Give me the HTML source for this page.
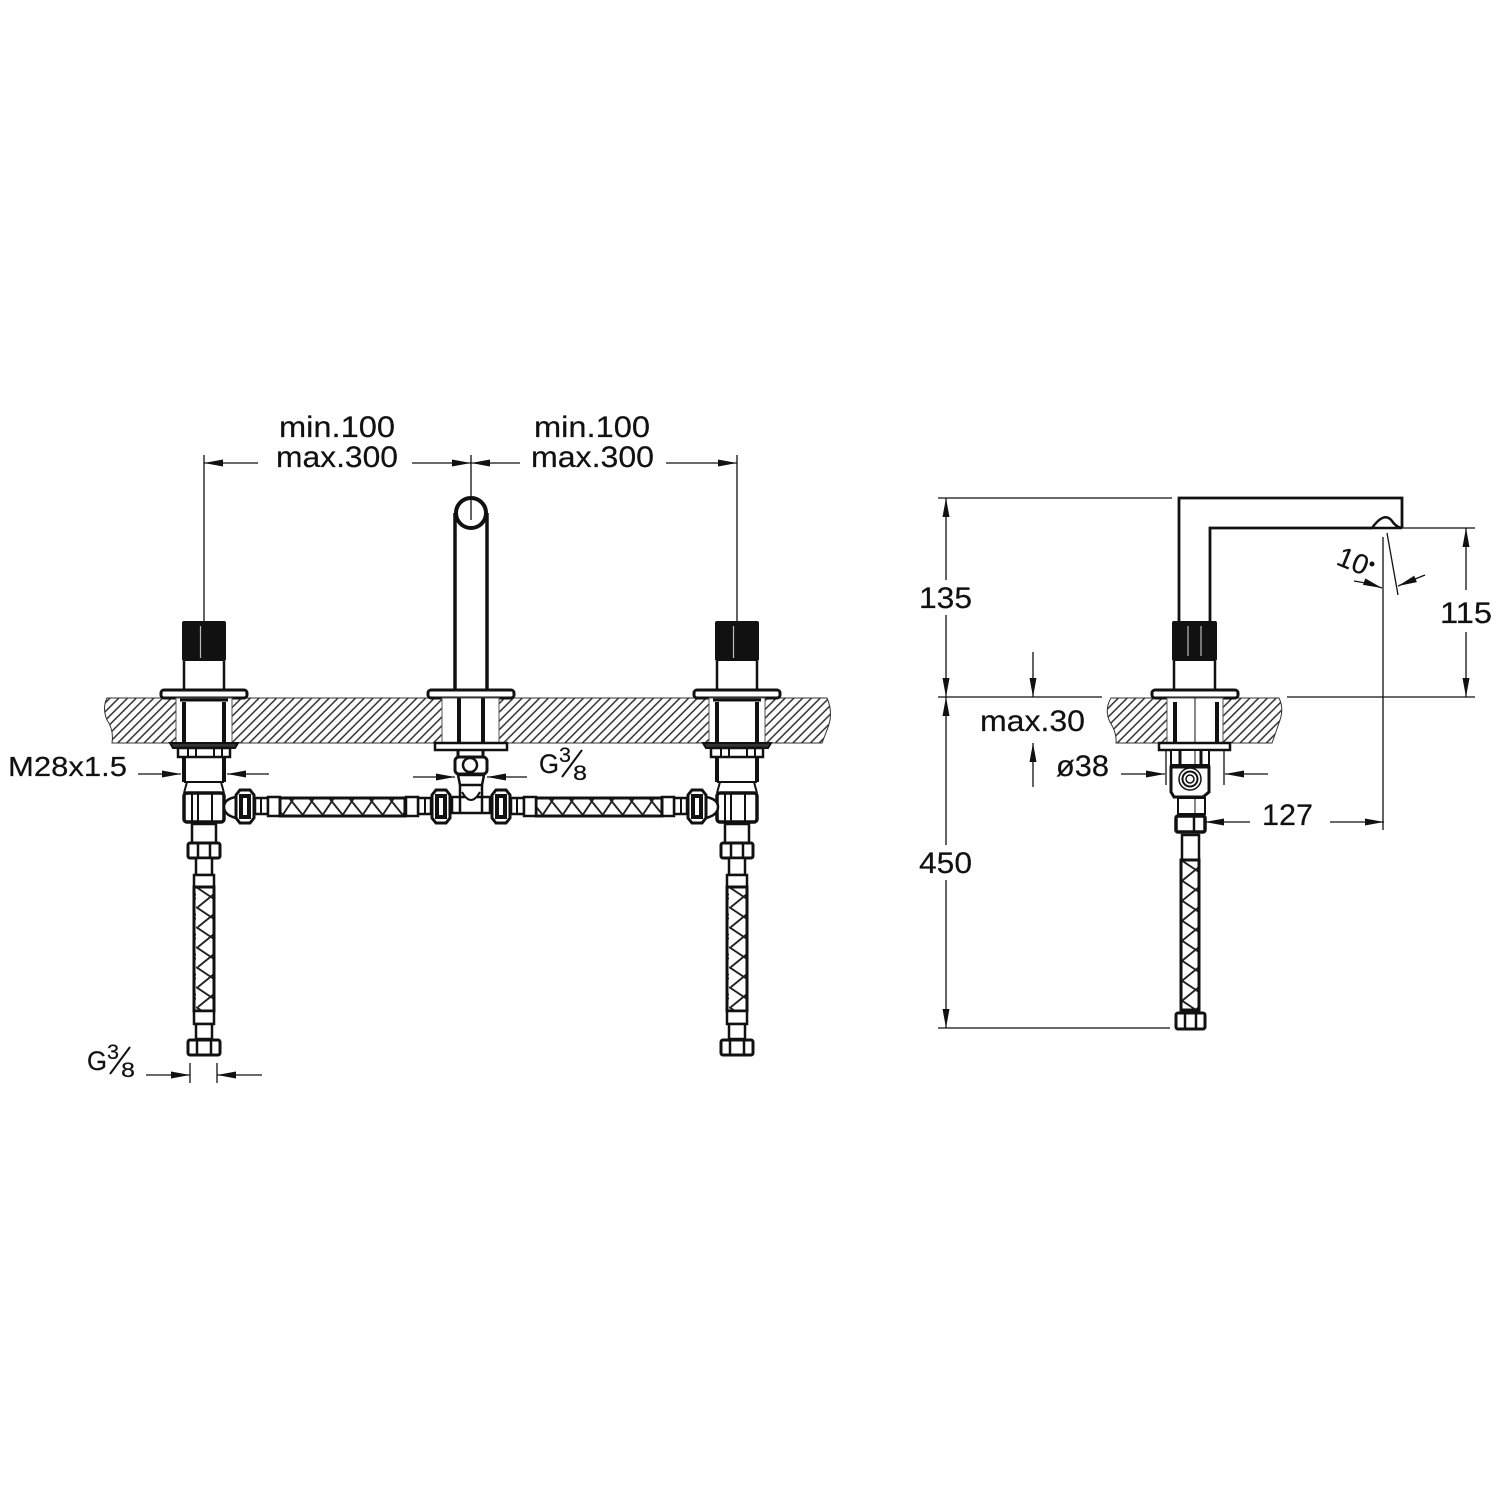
<!DOCTYPE html>
<html><head><meta charset="utf-8"><style>html,body{margin:0;padding:0;background:#fff}svg{display:block}text{font-family:"Liberation Sans",sans-serif;font-size:30px;fill:#111;stroke:#111;stroke-width:.2}</style></head><body>
<svg width="1500" height="1500" viewBox="0 0 1500 1500" xmlns="http://www.w3.org/2000/svg">
<defs>
<pattern id="h" width="6.2" height="6.2" patternUnits="userSpaceOnUse" patternTransform="rotate(45)"><line x1="1" y1="0" x2="1" y2="6.2" stroke="#222" stroke-width="1.4"/></pattern>
<pattern id="bh" width="20" height="18" patternUnits="userSpaceOnUse" patternTransform="translate(282 798)"><path d="M0 18L12 0M7 0L20 16M-13 0L0 16M20 18L32 0" fill="none" stroke="#222" stroke-width="1.9"/></pattern>
<pattern id="bv" width="20" height="18" patternUnits="userSpaceOnUse" patternTransform="translate(214 887) rotate(90)"><path d="M0 18L12 0M7 0L20 16M-13 0L0 16M20 18L32 0" fill="none" stroke="#222" stroke-width="1.9"/></pattern>
<pattern id="bv2" width="20" height="18" patternUnits="userSpaceOnUse" patternTransform="translate(1199 860) rotate(90)"><path d="M0 18L12 0M7 0L20 16M-13 0L0 16M20 18L32 0" fill="none" stroke="#222" stroke-width="1.9"/></pattern>
<marker id="a" markerUnits="userSpaceOnUse" markerWidth="20" markerHeight="8" refX="19" refY="4" orient="auto-start-reverse"><path d="M0 .5L19 4L0 7.500Z" fill="#111"/></marker>

<g id="top" fill="#fff" stroke="#111">
  <path d="M184 661V689M224 661V689" stroke-width="2.500"/>
  <rect x="182" y="621" width="44" height="40" rx="2" fill="#111" stroke="none"/>
  <path d="M200.500 626V658" stroke="#bbb" stroke-width="1.200"/>
  <rect x="161" y="690" width="86" height="8" rx="3" stroke-width="3"/>
</g>
<g id="mount" fill="#fff" stroke="#111">
  <rect x="176" y="698" width="56" height="45" stroke="#555" stroke-width="1"/>
  <path d="M180 700H228" stroke-width="3"/>
  <path d="M184 702V743M224 702V743" stroke-width="4"/>
  <path d="M170 743H238L235 748H173Z" fill="#333" stroke-width="2"/>
</g>
<g id="nut" fill="#fff" stroke="#111" stroke-width="3">
  <rect x="188" y="843" width="32" height="15" rx="2"/>
  <path d="M198 843V858M210 843V858" stroke-width="2.500"/>
</g>
<g id="vhose" fill="#fff" stroke="#111">
  <rect x="196" y="858" width="16" height="17" stroke-width="2.500"/>
  <rect x="194" y="875" width="20" height="12" stroke-width="2.500"/>
  <rect x="194" y="887" width="20" height="124" fill="url(#bv)" stroke-width="3"/>
  <rect x="194" y="1011" width="20" height="13" stroke-width="2.500"/>
  <rect x="196" y="1024" width="16" height="15" stroke-width="2.500"/>
  <rect x="188" y="1040" width="32" height="15" rx="2" stroke-width="3"/>
  <path d="M197 1040V1055M211 1040V1055" stroke-width="2.500"/>
</g>
<g id="body" fill="#fff" stroke="#111">
  <rect x="178" y="748" width="52" height="9" stroke-width="2.500"/>
  <path d="M188 748V757M196 748V757M214 748V757M222 748V757" stroke-width="2"/>
  <path d="M184 757V782M224 757V782" stroke-width="4"/>
  <path d="M184 782H224" stroke-width="2"/>
  <rect x="184" y="793" width="40" height="29" rx="3" stroke-width="3.500"/>
  <path d="M184 793L187 782M224 793L221 782" stroke-width="2"/>
  <path d="M192 793V822M198 793V822M212 793V822" stroke-width="2"/>
  <rect x="192" y="824" width="24" height="19" stroke-width="2.500"/>
</g>
<path id="elb" d="M236 797Q224 799 224 807Q224 815 236 818" fill="#fff" stroke="#111" stroke-width="2.500"/>
<g id="conn" fill="#fff" stroke="#111">
  <path d="M236 795L240 790H250L254 795V818L250 823H240L236 818Z" stroke-width="3"/>
  <rect x="241" y="796" width="8" height="21" fill="#fff" stroke-width="4"/>
  <rect x="255" y="798" width="13" height="16" stroke-width="2.500"/>
  <path d="M261 798V814" stroke-width="2"/>
  <rect x="268" y="797" width="12" height="19" stroke-width="2.500"/>
</g>
</defs>
<rect width="1500" height="1500" fill="#fff"/>

<!-- counters -->
<path d="M107 698H827Q834 714 827 730L822 743H112Q114 730 107 720Q102 708 107 698Z" fill="url(#h)" stroke="#333" stroke-width="1"/>
<path d="M1111 698H1279Q1284 708 1280 720Q1276 732 1272 743H1116Q1117 733 1110 722Q1104 710 1111 698Z" fill="url(#h)" stroke="#333" stroke-width="1"/>

<!-- left unit -->
<use href="#top"/><use href="#mount"/><use href="#body"/><use href="#nut"/><use href="#vhose"/><use href="#elb"/><use href="#conn"/>
<!-- right unit -->
<g transform="translate(533 0)"><use href="#top"/><use href="#mount"/><use href="#body"/><use href="#nut"/><use href="#vhose"/></g>
<use href="#elb" transform="matrix(-1 0 0 1 942 0)"/>
<use href="#conn" transform="matrix(-1 0 0 1 942 0)"/>

<!-- horizontal hoses -->
<rect x="280" y="798" width="125" height="18" fill="url(#bh)" stroke="#111" stroke-width="3"/>
<rect x="536" y="798" width="126" height="18" fill="url(#bh)" stroke="#111" stroke-width="3"/>
<use href="#conn" transform="matrix(-1 0 0 1 686 0)"/>
<use href="#conn" transform="translate(256 0)"/>

<!-- middle -->
<g fill="#fff" stroke="#111">
  <path d="M455 689V513M487 689V513" stroke-width="3.500"/>
  <circle cx="471" cy="513" r="15" stroke-width="4"/>
  <rect x="428" y="690" width="86" height="8" rx="3" stroke-width="3"/>
  <rect x="442" y="698" width="57" height="45" stroke="#555" stroke-width="1"/>
  <path d="M459 698V743M483 698V743" stroke-width="4"/>
  <rect x="435" y="743" width="72" height="7" stroke-width="2.500"/>
  <path d="M458 750V757M483 750V757" stroke-width="3"/>
  <rect x="455" y="757" width="32" height="17" rx="4" stroke-width="3"/>
  <circle cx="470" cy="765" r="7" stroke-width="2.500"/>
  <path d="M458 775H484L482 785H460Z" stroke-width="2.500"/>
  <path d="M460 785V797M482 785V797" stroke-width="2.500"/>
  <rect x="452" y="797" width="38" height="16" stroke-width="2.500"/>
  <path d="M460 797V813M482 797V813" stroke-width="2.500"/>
  <path d="M462 792Q471 808 480 792" stroke-width="2"/>
</g>

<!-- side view -->
<g fill="#fff" stroke="#111">
  <path d="M1179 621V498H1402V528M1210 621V528H1372" fill="none" stroke-width="2.800"/>
  <path d="M1372 528Q1384 511 1392 521Q1396 527 1402 528H1372Z" stroke-width="2.500"/>
  <rect x="1172" y="621" width="45" height="40" rx="2" fill="#111" stroke="none"/>
  <path d="M1188 626V656M1201 626V656" stroke="#bbb" stroke-width="1.200"/>
  <path d="M1174 661V689M1215 661V689" stroke-width="2.500"/>
  <rect x="1152" y="690" width="86" height="8" rx="3" stroke-width="3"/>
  <rect x="1167" y="698" width="56" height="45" stroke="#555" stroke-width="1"/>
  <path d="M1175 702V743M1217 702V743" stroke-width="4"/>
  <path d="M1195 698V743" stroke-width="1"/>
  <rect x="1159" y="743" width="71" height="7" stroke-width="2.500"/>
  <rect x="1171" y="750" width="38" height="15" stroke-width="2"/>
  <path d="M1180 750V765M1201 750V765" stroke-width="3"/>
  <path d="M1171 767H1209V792L1203 797H1174L1171 792Z" stroke-width="3"/>
  <circle cx="1190" cy="779" r="11" stroke-width="1.500"/>
  <circle cx="1190" cy="779" r="7.500" stroke-width="2"/>
  <circle cx="1190" cy="779" r="4" stroke-width="1.500"/>
  <rect x="1178" y="798" width="27" height="16" stroke-width="2"/>
  <path d="M1195 750V765M1195 797V815" stroke-width="1"/>
  <rect x="1176" y="816" width="29" height="16" rx="2" stroke-width="3.500"/>
  <path d="M1194 816V832" stroke-width="2.500"/>
  <rect x="1182" y="835" width="17" height="25" stroke-width="2.500"/>
  <rect x="1181" y="860" width="18" height="150" fill="url(#bv2)" stroke-width="3"/>
  <rect x="1176" y="1013" width="29" height="16" rx="2" stroke-width="3"/>
  <path d="M1185 1013V1029M1196 1013V1029" stroke-width="2.500"/>
</g>

<!-- dimension lines -->
<g fill="none" stroke="#111" stroke-width="1.300">
  <path d="M204 455V640M737 455V621M471 455V520"/>
  <path d="M258 463H204" marker-end="url(#a)"/>
  <path d="M412 463H471" marker-end="url(#a)"/>
  <path d="M520 463H471" marker-end="url(#a)"/>
  <path d="M666 463H737" marker-end="url(#a)"/>
  <path d="M138 774H181" marker-end="url(#a)"/>
  <path d="M269 774H227" marker-end="url(#a)"/>
  <path d="M413 777H455" marker-end="url(#a)"/>
  <path d="M527 777H487" marker-end="url(#a)"/>
  <path d="M146 1075H190" marker-end="url(#a)"/>
  <path d="M262 1075H217" marker-end="url(#a)"/>
  <path d="M190 1063V1083M217 1063V1083"/>

  <path d="M938 498H1172M938 697H1102M1287 697H1475M1402 528H1475M938 1028H1170"/>
  <path d="M946 580V498" marker-end="url(#a)"/>
  <path d="M946 615V697" marker-end="url(#a)"/>
  <path d="M946 845V697" marker-end="url(#a)"/>
  <path d="M946 880V1028" marker-end="url(#a)"/>
  <path d="M1466 590V528" marker-end="url(#a)"/>
  <path d="M1466 632V697" marker-end="url(#a)"/>
  <path d="M1033 652V697" marker-end="url(#a)"/>
  <path d="M1033 787V743" marker-end="url(#a)"/>
  <path d="M1121 774H1165" marker-end="url(#a)"/>
  <path d="M1268 774H1225" marker-end="url(#a)"/>
  <path d="M1166 750V785M1224 750V785"/>
  <path d="M1250 822H1205" marker-end="url(#a)"/>
  <path d="M1330 822H1384" marker-end="url(#a)"/>
  <path d="M1383 537V830M1387 533L1398 595"/>
  <path d="M1354 581Q1368 583 1382 588" marker-end="url(#a)"/>
  <path d="M1425 575L1398 586" marker-end="url(#a)"/>
</g>

<!-- labels -->
<text x="279" y="437" textLength="116" lengthAdjust="spacingAndGlyphs">min.100</text>
<text x="276" y="467" textLength="122" lengthAdjust="spacingAndGlyphs">max.300</text>
<text x="534" y="437" textLength="116" lengthAdjust="spacingAndGlyphs">min.100</text>
<text x="531" y="467" textLength="123" lengthAdjust="spacingAndGlyphs">max.300</text>
<text x="8" y="776" textLength="119" lengthAdjust="spacingAndGlyphs" style="font-size:28px">M28x1.5</text>
<text x="919" y="608" textLength="53" lengthAdjust="spacingAndGlyphs">135</text>
<text x="919" y="873" textLength="53" lengthAdjust="spacingAndGlyphs">450</text>
<text x="1440" y="623" textLength="52" lengthAdjust="spacingAndGlyphs">115</text>
<text x="980" y="731" textLength="105" lengthAdjust="spacingAndGlyphs">max.30</text>
<text x="1056" y="776" textLength="53" lengthAdjust="spacingAndGlyphs">ø38</text>
<text x="1262" y="825" textLength="51" lengthAdjust="spacingAndGlyphs">127</text>
<text transform="translate(1335 564) rotate(22)" style="font-size:28px">10</text>
<circle cx="1372" cy="564" r="2.500" fill="#111"/>

<!-- G3/8 mid -->
<text x="539" y="773" style="font-size:27px" textLength="20" lengthAdjust="spacingAndGlyphs">G</text>
<text x="559" y="762" style="font-size:21px" textLength="12" lengthAdjust="spacingAndGlyphs">3</text>
<text x="573" y="780" style="font-size:21px" textLength="14" lengthAdjust="spacingAndGlyphs">8</text>
<path d="M562 777L582 750" stroke="#111" stroke-width="2"/>
<!-- G3/8 bottom -->
<text x="87" y="1070" style="font-size:27px" textLength="20" lengthAdjust="spacingAndGlyphs">G</text>
<text x="107" y="1059" style="font-size:21px" textLength="12" lengthAdjust="spacingAndGlyphs">3</text>
<text x="121" y="1077" style="font-size:21px" textLength="14" lengthAdjust="spacingAndGlyphs">8</text>
<path d="M110 1074L130 1047" stroke="#111" stroke-width="2"/>
</svg>
</body></html>
